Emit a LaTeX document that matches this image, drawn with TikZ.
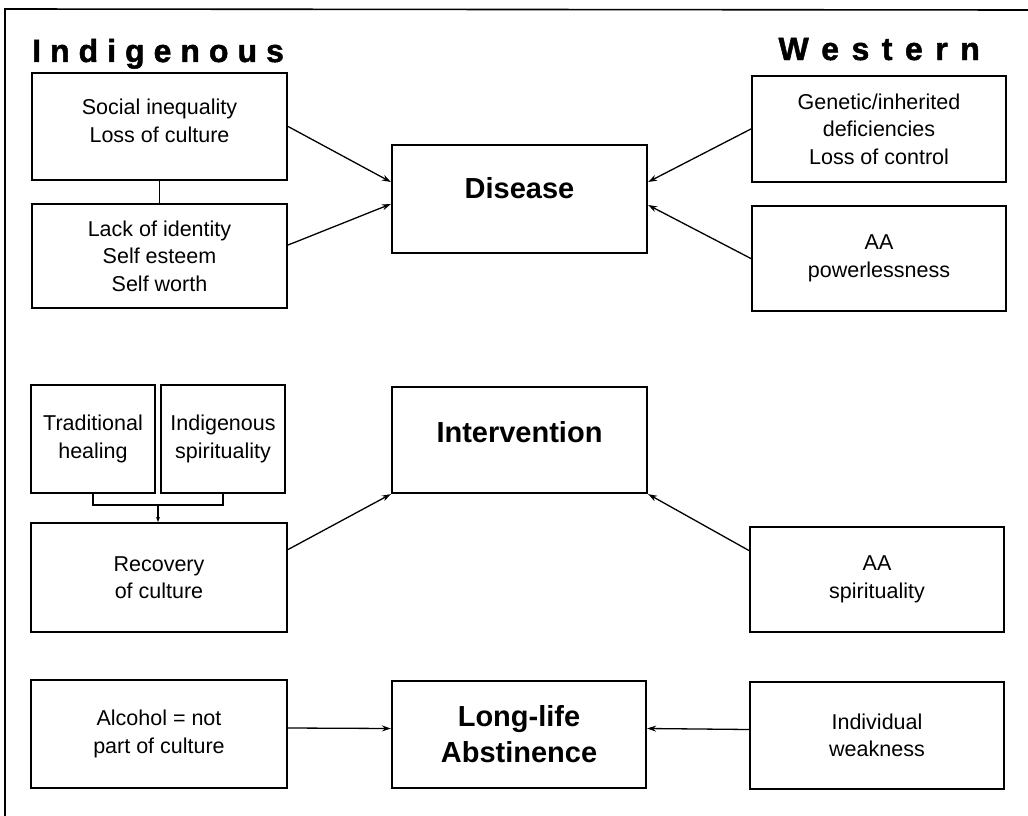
\documentclass[tikz,border=0pt]{standalone}
\usepackage{fontspec}
\setmainfont{Liberation Sans}
\newfontfamily\headfont{Liberation Sans Bold}[FakeBold=1.5]
\usetikzlibrary{arrows.meta,calc}
\begin{document}
\begin{tikzpicture}[x=1pt,y=-1pt,
  box/.style={draw, line width=2.2pt, inner sep=0pt, align=center,
    minimum width=255pt, font=\fontsize{21.5}{27.5}\selectfont},
  bigbox/.style={box, font=\fontsize{29}{36}\selectfont\bfseries},
  head/.style={inner sep=0pt, font=\fontsize{32}{32}\selectfont\headfont},
  conn/.style={line width=1.3pt},
  arr/.style={conn, -{Stealth[length=9pt,width=6pt]}},
  smallarr/.style={conn, -{Stealth[length=5pt,width=4pt]}}]
\useasboundingbox (0,0) rectangle (1028,816);
% frame
\coordinate (fbl) at (5,816);
\coordinate (ftl) at (5,9);
\coordinate (ftr) at (1028,10);
\draw[line width=1.6pt] (fbl) -- (ftl) -- (ftr);
% headings
\node[head, anchor=base west] (hind) at (32,62)
  {I\kern9pt n\kern9pt d\kern9pt i\kern9pt g\kern9pt e\kern9pt n\kern9pt o\kern9pt u\kern9pt s};
\node[head, anchor=base east] (hwest) at (980,60)
  {W\kern12.5pt e\kern12.5pt s\kern12.5pt t\kern12.5pt e\kern12.5pt r\kern12.5pt n};
% top row
\node[box, minimum height=107pt, text depth=12pt] (b1) at (159.5,126.5) {Social inequality\\Loss of culture};
\node[box, minimum height=104pt] (b2) at (159.5,256) {Lack of identity\\Self esteem\\Self worth};
\node[bigbox, minimum height=108pt, text depth=22pt] (dis) at (519.5,199) {Disease};
\node[box, minimum width=254pt, minimum height=106pt] (gen) at (879,129) {Genetic/inherited\\deficiencies\\Loss of control};
\node[box, minimum width=254pt, minimum height=105pt] (aap) at (879,258.5) {AA\\powerlessness};
% middle row
\node[box, minimum width=124pt, minimum height=108pt] (trad) at (93,439) {Traditional\\healing};
\node[box, minimum width=124pt, minimum height=108pt] (isp) at (223,439) {Indigenous\\spirituality};
\node[bigbox, minimum height=106pt, text depth=16pt] (int) at (519.5,440) {Intervention};
\node[box, minimum width=256pt, minimum height=109pt] (rec) at (159,577.5) {Recovery\\of culture};
\node[box, minimum width=254pt, minimum height=105pt] (aas) at (877,579.5) {AA\\spirituality};
% bottom row
\node[box, minimum width=256pt, minimum height=108pt] (alc) at (159,734) {Alcohol = not\\part of culture};
\node[bigbox, minimum width=254pt, minimum height=107pt] (ll) at (519,734.5) {Long-life\\Abstinence};
\node[box, minimum width=254pt, minimum height=107pt] (ind) at (877,735.5) {Individual\\weakness};
% connectors
\draw[arr] (b1.east) -- ($(dis.west)+(0,-17)$);
\draw[arr] ($(b2.east)+(0,-11)$) -- ($(dis.west)+(0,5)$);
\draw[arr] (gen.west) -- ($(dis.east)+(0,-17)$);
\draw[arr] (aap.west) -- ($(dis.east)+(0,6)$);
\draw[conn] (b1.south) -- (b2.north);
\draw[conn] (trad.south) -- ++(0,11) -| (isp.south);
\coordinate (brk) at ($(trad.south)!0.5!(isp.south)+(0,11)$);
\draw[smallarr] (brk) -- (brk |- rec.north);
\draw[arr] ($(rec.east)+(0,-28)$) -- (int.south west);
\draw[arr] ($(aas.west)+(0,-29)$) -- (int.south east);
\draw[arr] ($(alc.east)+(0,-6)$) -- ($(ll.west)+(0,-6)$);
\draw[arr] ($(ind.west)+(0,-6)$) -- ($(ll.east)+(0,-6)$);
\end{tikzpicture}
\end{document}
